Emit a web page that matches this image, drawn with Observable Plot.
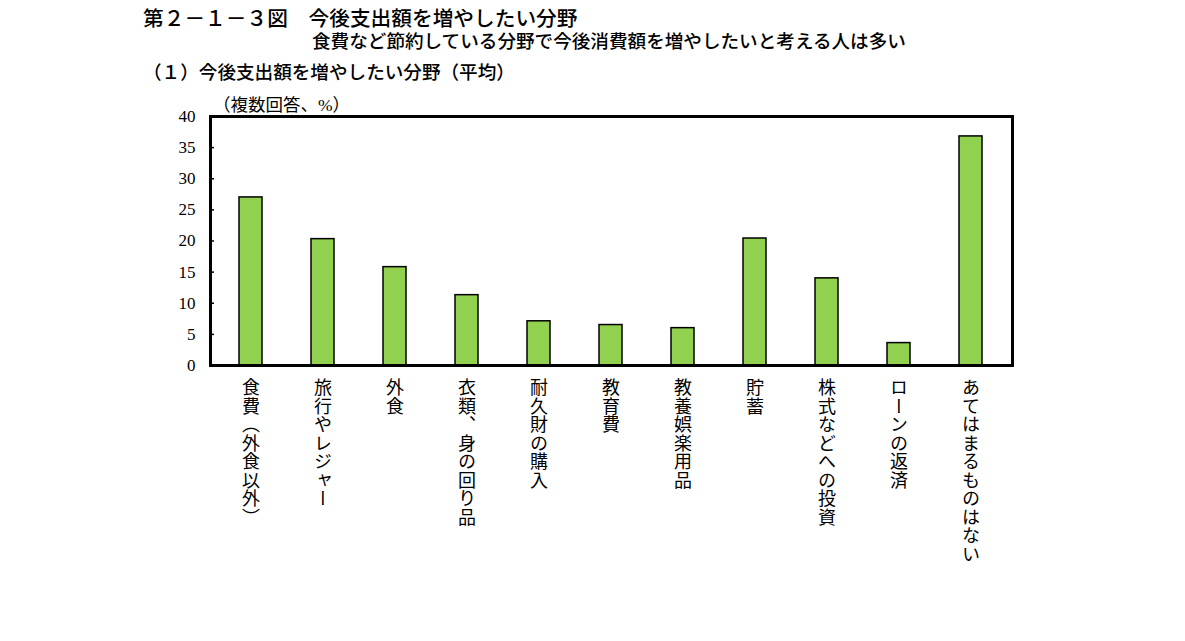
<!DOCTYPE html>
<html><head><meta charset="utf-8">
<script src="https://cdn.jsdelivr.net/npm/d3@7"></script>
<script src="https://cdn.jsdelivr.net/npm/@observablehq/plot@0.6"></script>
<style>
body{margin:0;background:#fff;}
#wrap{position:relative;width:1185px;height:641px;overflow:hidden;background:#fff;}
#wrap svg{position:absolute;left:0;top:0;}
.t{position:absolute;white-space:nowrap;font-family:"Noto Sans CJK JP",sans-serif;color:#000;line-height:1;}
</style></head><body><div id="wrap">
<div class="t" style="left:143px;top:7px;font-size:20.7px;font-weight:500">第２－１－３図　今後支出額を増やしたい分野</div>
<div class="t" style="left:312px;top:31px;font-size:18.6px;font-weight:500">食費など節約している分野で今後消費額を増やしたいと考える人は多い</div>
<div class="t" style="left:143px;top:62px;font-size:18.6px;font-weight:500">（１）今後支出額を増やしたい分野（平均）</div>
<div class="t" style="left:213px;top:97px;font-size:17.5px;font-family:'Liberation Serif','Noto Sans CJK JP',serif">（複数回答、%）</div>
</div>
<script>
const categories = ["食費（外食以外）","旅行やレジャー","外食","衣類、身の回り品","耐久財の購入","教育費","教養娯楽用品","貯蓄","株式などへの投資","ローンの返済","あてはまるものはない"];
const values = [27.0, 20.3, 15.8, 11.3, 7.1, 6.5, 6.0, 20.4, 14.0, 3.6, 36.8];
const yTicks = [0, 5, 10, 15, 20, 25, 30, 35, 40];

const data = categories.map((c, i) => ({cat: c, val: values[i]}));

const chart = Plot.plot({
  width: 1185,
  height: 641,
  marginTop: 116,
  marginLeft: 210,
  marginRight: 173,
  marginBottom: 276,
  style: {background: "transparent", overflow: "visible"},
  x: {domain: categories, paddingInner: 0.68, paddingOuter: 0.34, axis: null},
  y: {domain: [0, 40], axis: null},
  marks: [
    Plot.barY(data, {x: "cat", y: "val", fill: "#92d050", stroke: "#000", strokeWidth: 1.5}),
    Plot.axisY({ticks: yTicks, tickFormat: d => String(d), tickSize: -4, tickPadding: 19, strokeWidth: 1.5,
      label: null, fontSize: 17, fontFamily: "'Liberation Serif', serif", fill: "#000"}),
    Plot.axisX({tickSize: 0, tickPadding: 0, label: null, fontSize: 18, fontFamily: "'Noto Sans CJK JP', sans-serif", fill: "#000"}),
    Plot.frame({stroke: "#000", strokeWidth: 3})
  ]
});
document.getElementById("wrap").prepend(chart);

// Vertical (tategaki) category labels
chart.querySelectorAll('[aria-label="x-axis tick label"] text').forEach(t => {
  t.removeAttribute("dy");
  t.querySelectorAll("tspan").forEach(s => s.removeAttribute("dy"));
  t.setAttribute("text-anchor", "start");
  t.style.writingMode = "vertical-rl";
  t.style.letterSpacing = "0.5px";
  t.style.textOrientation = "mixed";
});
</script>
</body></html>
